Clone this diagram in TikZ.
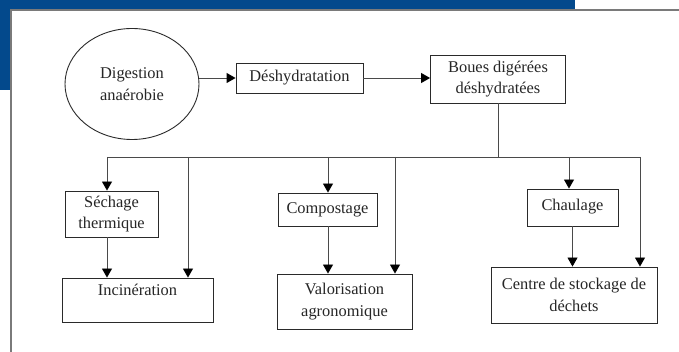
\documentclass[tikz,border=0pt]{standalone}
\usepackage{fontspec}
\setmainfont{Liberation Serif}
\usetikzlibrary{shapes.geometric,arrows.meta}
\definecolor{slideblue}{HTML}{03498C}
\definecolor{edge}{HTML}{2A2A2A}
\definecolor{wire}{HTML}{4A4A4A}
\definecolor{frameline}{HTML}{7A7A7A}
\begin{document}
\begin{tikzpicture}[x=1pt,y=-1pt,
  lbl/.style={font=\fontsize{16.4}{21.5}\selectfont, align=center, text=black!85},
  box/.style={lbl, draw=edge, line width=0.9pt, rectangle, inner sep=0pt},
  arr/.style={draw=wire, line width=0.9pt, -{Triangle[length=9pt,width=10pt,color=black]}},
  link/.style={draw=wire, line width=0.9pt}]
\useasboundingbox (0,0) rectangle (679,352);

% slide background: blue band and left strip, white panel on top
\fill[slideblue] (0,0) rectangle (575,10);
\fill[slideblue] (0,0) rectangle (11,90);
\fill[white] (11,10) rectangle (679,352);
\draw[frameline, line width=1.2pt] (11,352) -- (11,10) -- (679,10);

% nodes
\node[lbl, draw=edge, line width=0.9pt, ellipse, inner sep=0pt,
      minimum width=134pt, minimum height=111pt] (dig) at (132,84) {Digestion\\anaérobie};
\node[box, minimum width=127pt, minimum height=30pt] (desh) at (299.5,78) {Déshydratation};
\node[box, minimum width=135pt, minimum height=48pt] (boues) at (498,79) {Boues digérées\\déshydratées};
\node[box, minimum width=93pt, minimum height=46pt] (sech) at (111.5,214) {Séchage\\thermique};
\node[box, minimum width=151pt, minimum height=44pt, text depth=20pt] (incin) at (137.5,300) {Incinération};
\node[box, minimum width=99pt, minimum height=33pt] (compo) at (327.5,209.5) {Compostage};
\node[box, minimum width=135pt, minimum height=55pt] (valor) at (344.5,301.5) {Valorisation\\agronomique};
\node[box, minimum width=91pt, minimum height=37pt, text depth=6pt] (chaul) at (572.5,207.5) {Chaulage};
\node[box, minimum width=166pt, minimum height=56pt] (centre) at (574,295) {Centre de stockage de\\déchets};

% distribution line
\coordinate (busL) at (107,157);
\coordinate (bI) at (188,157);
\coordinate (bC) at (328,157);
\coordinate (bV) at (395,157);
\coordinate (bK) at (569,157);
\coordinate (busR) at (640,157);

% connectors
\draw[arr] (desh.west -| dig.east) -- (desh.west);
\draw[arr] (desh.east) -- (desh.east -| boues.west);
\draw[link] (boues.south) -- (boues.south |- busL);
\draw[link] (busL) -- (busR);

\draw[arr] (busL) -- (busL |- sech.north);
\draw[arr] (busL |- sech.south) -- (busL |- incin.north);
\draw[arr] (bI) -- (bI |- incin.north);

\draw[arr] (bC) -- (bC |- compo.north);
\draw[arr] (bC |- compo.south) -- (bC |- valor.north);
\draw[arr] (bV) -- (bV |- valor.north);

\draw[arr] (bK) -- (bK |- chaul.north);
\draw[arr] (chaul.south) -- (chaul.south |- centre.north);
\draw[arr] (busR) -- (busR |- centre.north);
\end{tikzpicture}
\end{document}
